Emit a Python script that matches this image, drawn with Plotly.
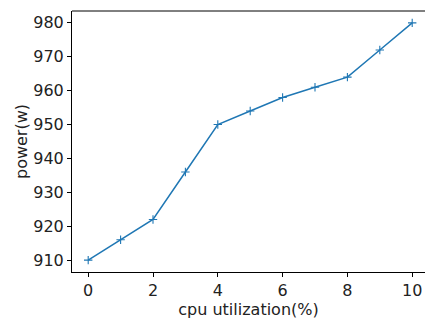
import plotly.graph_objects as go

# CPU utilization levels and measured power draw
cpu_util = [0, 1, 2, 3, 4, 5, 6, 7, 8, 9, 10]
power_w = [910, 916, 922, 936, 950, 954, 958, 961, 964, 972, 980]

x_ticks = [0, 2, 4, 6, 8, 10]
y_ticks = [910, 920, 930, 940, 950, 960, 970, 980]

font = dict(family="DejaVu Sans", size=16, color="#222222")

fig = go.Figure(
    go.Scatter(
        x=cpu_util,
        y=power_w,
        mode="lines+markers",
        line=dict(color="#1f77b4", width=1.5),
        marker=dict(symbol="cross-thin", size=6, line=dict(color="#1f77b4", width=1.1)),
    )
)

fig.update_layout(
    width=425,
    height=320,
    margin=dict(l=72, r=0, t=11, b=48),
    paper_bgcolor="white",
    plot_bgcolor="white",
    font=font,
    showlegend=False,
    xaxis=dict(
        range=[-0.5, 10.395],
        tickvals=x_ticks,
        ticks="outside",
        ticklen=4,
        tickwidth=1,
        tickcolor="black",
        showline=True,
        linecolor="black",
        linewidth=1,
        showgrid=False,
        zeroline=False,
        title=dict(text="cpu utilization(%)", font=font, standoff=2),
    ),
    yaxis=dict(
        range=[906.5, 983.5],
        tickvals=y_ticks,
        ticks="outside",
        ticklen=4,
        tickwidth=1,
        tickcolor="black",
        showline=True,
        linecolor="black",
        linewidth=1,
        showgrid=False,
        zeroline=False,
        title=dict(text="power(w)", font=font, standoff=1),
    ),
)

# top frame line of the axes box
fig.add_shape(
    type="line", xref="paper", yref="paper",
    x0=0, x1=1, y0=1, y1=1,
    line=dict(color="black", width=1),
)

fig.write_html("out.html")
